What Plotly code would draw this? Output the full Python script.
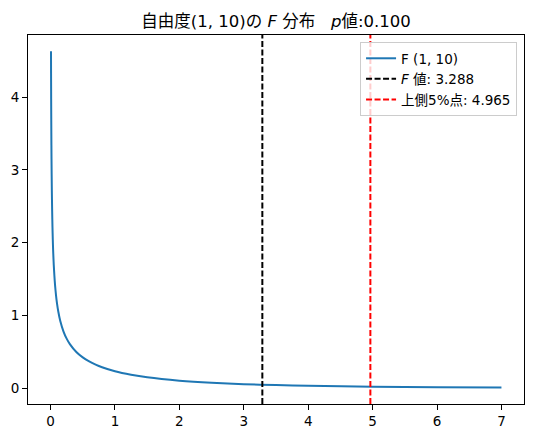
import plotly.graph_objects as go

# F(1, 10) density
f_x = [0.007, 0.008, 0.009, 0.01, 0.012, 0.015, 0.02, 0.025, 0.03, 0.035, 0.04, 0.045,
       0.05, 0.06, 0.07, 0.085, 0.1, 0.12, 0.15, 0.2, 0.25, 0.3, 0.4, 0.5, 0.6, 0.7, 0.8,
       1.0, 1.25, 1.5, 2.0, 2.5, 3.0, 3.5, 4.0, 5.0, 6.0, 7.0]
f_y = [4.63, 4.33, 4.08, 3.87, 3.53, 3.15, 2.72, 2.43, 2.21, 2.04, 1.90, 1.79,
       1.69, 1.54, 1.415, 1.274, 1.165, 1.052, 0.925, 0.780, 0.679, 0.604, 0.496, 0.421,
       0.365, 0.321, 0.285,
       0.230, 0.182, 0.147, 0.101, 0.072, 0.053, 0.040, 0.031, 0.0187, 0.012, 0.0079]

f_value = 3.288
f_crit = 4.965
p_value = 0.100
dfn, dfd = 1, 10

font = "DejaVu Sans, Noto Sans CJK JP, sans-serif"

fig = go.Figure()
fig.add_trace(go.Scatter(x=f_x, y=f_y, mode="lines", name=f"F ({dfn}, {dfd})",
                         line=dict(color="#1f77b4", width=2, shape="spline", smoothing=0.6)))

fig.add_vline(x=f_value, line=dict(color="black", width=2, dash="6px,2.5px"),
              showlegend=True, name=f"<i>F</i> 値: {f_value:.3f}")
fig.add_vline(x=f_crit, line=dict(color="red", width=2, dash="6px,2.5px"),
              showlegend=True, name=f"上側5%点: {f_crit:.3f}")

axis = dict(showline=True, linecolor="black", linewidth=1, mirror=True,
            ticks="outside", ticklen=5, tickcolor="black", showgrid=False,
            zeroline=False, automargin=False, tickfont=dict(size=13.5, color="black"))

# the page body adds 8px on the top/left, so the figure is trimmed by that
fig.update_layout(
    width=526, height=430,
    margin=dict(l=20, r=10, t=27, b=34),
    plot_bgcolor="white", paper_bgcolor="white",
    font=dict(family=font, color="black"),
    title=dict(text=f"自由度({dfn}, {dfd})の <i>F</i> 分布   <i>p</i>値:{p_value:.3f}",
               x=0.5, xref="paper", xanchor="center",
               y=1 - 13 / 430, yref="container", yanchor="middle",
               font=dict(size=16.5, color="black")),
    xaxis=dict(range=[-0.35, 7.35], tickmode="linear", tick0=0, dtick=1, **axis),
    yaxis=dict(range=[-0.22, 4.855], tickmode="linear", tick0=0, dtick=1, **axis),
    legend=dict(x=0.986, y=0.981, xanchor="right", yanchor="top",
                bgcolor="rgba(255,255,255,0.8)", bordercolor="#cccccc", borderwidth=1,
                font=dict(size=13.5, color="black"), tracegroupgap=0),
    showlegend=True,
)

fig.write_html("out.html")
